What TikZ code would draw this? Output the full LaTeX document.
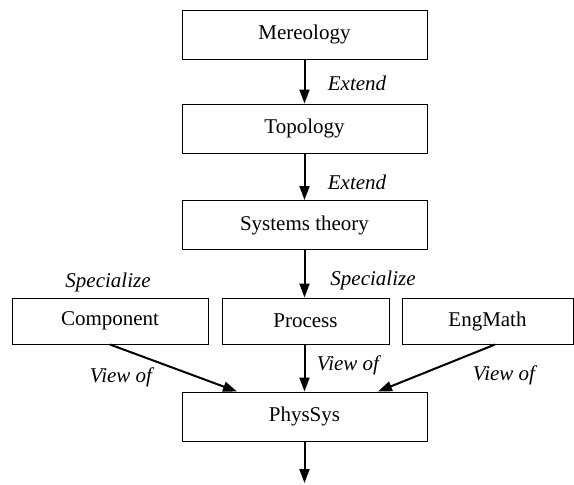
\documentclass[tikz,border=0pt]{standalone}
\usepackage{fontspec}
\setmainfont{Liberation Serif}
\usetikzlibrary{arrows.meta,calc}
\begin{document}
\begin{tikzpicture}[x=0.5pt,y=-0.5pt,
  box/.style={draw, line width=0.5pt, inner sep=0pt, minimum height=24.5pt,
    font=\fontsize{10.5}{12}\selectfont},
  wide/.style={box, minimum width=122.5pt},
  link/.style={line width=1pt, -{Triangle[length=7pt,width=5pt]}},
  lbl/.style={font=\fontsize{10.5}{12}\selectfont\itshape, inner sep=0pt}]
\useasboundingbox (0,0) rectangle (574,484);

% concept boxes
\node[wide] (mer) at (304.5,34.5) {Mereology};
\node[wide] (top) at (304.5,128.5) {Topology};
\node[wide] (sys) at (304.5,225) {Systems theory};
\node[box, minimum width=98pt, minimum height=23pt] (comp) at (110,321) {Component};
\node[box, minimum width=83.5pt, minimum height=23pt] (proc) at (305.5,321) {Process};
\node[box, minimum width=85.5pt, minimum height=23pt] (eng) at (487.5,321) {EngMath};
\node[wide] (phys) at (304.5,416.5) {PhysSys};

% connectors
\draw[link] (mer) -- (top);
\draw[link] (top) -- (sys);
\draw[link] (sys.south) -- (sys.south |- proc.north);
\coordinate (inL) at ($(phys.north)+(-67.5,0)$);
\coordinate (inR) at ($(phys.north)+(73.5,0)$);
\coordinate (outE) at ($(eng.south)+(7.5,0)$);
\coordinate (down) at (304.5,483);
\draw[link] (comp.south) -- (inL);
\draw[link] (proc.south -| phys.north) -- (phys.north);
\draw[link] (outE) -- (inR);
\draw[link] (phys) -- (down);

% connector labels
\node[lbl] (e1) at (357,83) {Extend};
\node[lbl] (e2) at (357,182) {Extend};
\node[lbl] (s1) at (108,282) {Specialize};
\node[lbl] (s2) at (373,280) {Specialize};
\node[lbl] (v1) at (121,377) {View of};
\node[lbl] (v2) at (348,365) {View of};
\node[lbl] (v3) at (504,375) {View of};
\end{tikzpicture}
\end{document}
